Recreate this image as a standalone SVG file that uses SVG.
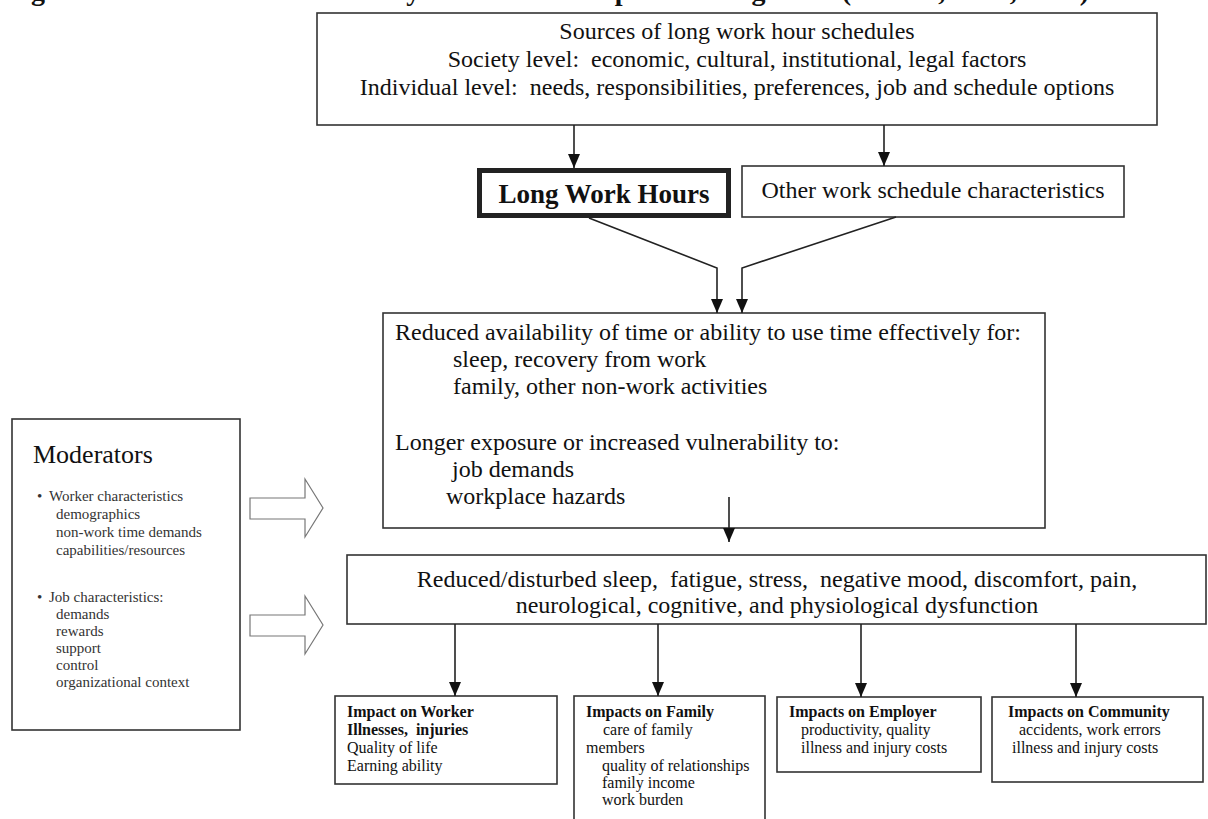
<svg xmlns="http://www.w3.org/2000/svg" width="1208" height="819" viewBox="0 0 1208 819">
<defs>
<marker id="ah" markerUnits="userSpaceOnUse" markerWidth="14" markerHeight="12" refX="14" refY="6" orient="auto">
<path d="M0,0 L14,6 L0,12 z" fill="#111"/>
</marker>
<style>
text{font-family:"Liberation Serif","Times New Roman",serif;fill:#111;white-space:pre}
.box{fill:#fff;stroke:#333;stroke-width:1.6}
.thick{fill:#fff;stroke:#222;stroke-width:5}
.t24{font-size:24px}
.mid{text-anchor:middle}
.t15{font-size:15px;fill:#333}
.t16{font-size:16px}
.b{font-weight:bold}
.con{fill:none;stroke:#222;stroke-width:1.6}
.blk{fill:#fff;stroke:#777;stroke-width:1.2}
</style>
</defs>
<rect width="1208" height="819" fill="#fff"/>

<text x="6" y="0" font-size="28" font-weight="bold">Figure 1. Framework for the study of the health impacts of long work (Caruso, et al., 2006)</text>

<g id="sources">
<rect class="box" x="317" y="13" width="840" height="112"/>
<text class="t24 mid" x="737" y="39">Sources of long work hour schedules</text>
<text class="t24 mid" x="737" y="67">Society level:  economic, cultural, institutional, legal factors</text>
<text class="t24 mid" x="737" y="95">Individual level:  needs, responsibilities, preferences, job and schedule options</text>
</g>

<g id="long-hours">
<rect class="thick" x="479.5" y="170.5" width="249" height="45"/>
<text class="mid b" x="604" y="203" font-size="27">Long Work Hours</text>
</g>

<g id="other-schedule">
<rect class="box" x="742" y="166" width="382" height="51"/>
<text class="t24 mid" x="933" y="198">Other work schedule characteristics</text>
</g>

<g id="reduced-time">
<rect class="box" x="383" y="313" width="662" height="215"/>
<text class="t24" x="395" y="340">Reduced availability of time or ability to use time effectively for:</text>
<text class="t24" x="453" y="367">sleep, recovery from work</text>
<text class="t24" x="453" y="394">family, other non-work activities</text>
<text class="t24" x="395" y="450">Longer exposure or increased vulnerability to:</text>
<text class="t24" x="452" y="477">job demands</text>
<text class="t24" x="446" y="504">workplace hazards</text>
</g>

<g id="moderators">
<rect class="box" x="12" y="419" width="228" height="311"/>
<text x="33" y="463" font-size="26">Moderators</text>
<text class="t15" x="37" y="501">•</text>
<text class="t15" x="49" y="501">Worker characteristics</text>
<text class="t15" x="56" y="519">demographics</text>
<text class="t15" x="56" y="537">non-work time demands</text>
<text class="t15" x="56" y="555">capabilities/resources</text>
<text class="t15" x="37" y="602">•</text>
<text class="t15" x="49" y="602">Job characteristics:</text>
<text class="t15" x="56" y="619">demands</text>
<text class="t15" x="56" y="636">rewards</text>
<text class="t15" x="56" y="653">support</text>
<text class="t15" x="56" y="670">control</text>
<text class="t15" x="56" y="687">organizational context</text>
</g>

<g id="strain">
<rect class="box" x="347" y="555" width="859" height="69"/>
<text class="t24 mid" x="777" y="587">Reduced/disturbed sleep,  fatigue, stress,  negative mood, discomfort, pain,</text>
<text class="t24 mid" x="777" y="613">neurological, cognitive, and physiological dysfunction</text>
</g>

<g id="impact-worker">
<rect class="box" x="335" y="696" width="222" height="88"/>
<text class="t16 b" x="347" y="717">Impact on Worker</text>
<text class="t16 b" x="347" y="735">Illnesses,  injuries</text>
<text class="t16" x="347" y="753">Quality of life</text>
<text class="t16" x="347" y="771">Earning ability</text>
</g>

<g id="impact-family">
<rect class="box" x="574" y="696" width="191" height="140"/>
<text class="t16 b" x="586" y="717">Impacts on Family</text>
<text class="t16" x="603" y="735">care of family</text>
<text class="t16" x="586" y="753">members</text>
<text class="t16" x="602" y="771">quality of relationships</text>
<text class="t16" x="602" y="788">family income</text>
<text class="t16" x="602" y="805">work burden</text>
</g>

<g id="impact-employer">
<rect class="box" x="777" y="697" width="204" height="75"/>
<text class="t16 b" x="789" y="717">Impacts on Employer</text>
<text class="t16" x="801" y="735">productivity, quality</text>
<text class="t16" x="801" y="753">illness and injury costs</text>
</g>

<g id="impact-community">
<rect class="box" x="992" y="697" width="211" height="85"/>
<text class="t16 b" x="1008" y="717">Impacts on Community</text>
<text class="t16" x="1019" y="735">accidents, work errors</text>
<text class="t16" x="1012" y="753">illness and injury costs</text>
</g>

<g id="connectors">
<line class="con" x1="574" y1="125" x2="574" y2="168" marker-end="url(#ah)"/>
<line class="con" x1="884" y1="125" x2="884" y2="166" marker-end="url(#ah)"/>
<polyline class="con" points="589,218 717,268 717,313" marker-end="url(#ah)"/>
<polyline class="con" points="896,217 742,268 742,313" marker-end="url(#ah)"/>
<line class="con" x1="729" y1="497" x2="729" y2="542" marker-end="url(#ah)"/>
<line class="con" x1="455" y1="624" x2="455" y2="696" marker-end="url(#ah)"/>
<line class="con" x1="658" y1="624" x2="658" y2="696" marker-end="url(#ah)"/>
<line class="con" x1="861" y1="624" x2="861" y2="697" marker-end="url(#ah)"/>
<line class="con" x1="1076" y1="624" x2="1076" y2="697" marker-end="url(#ah)"/>
<polygon class="blk" points="250,498 305,498 305,479 323,508 305,537 305,519 250,519"/>
<polygon class="blk" points="250,615 305,615 305,596 323,625 305,654 305,636 250,636"/>
</g>
</svg>
